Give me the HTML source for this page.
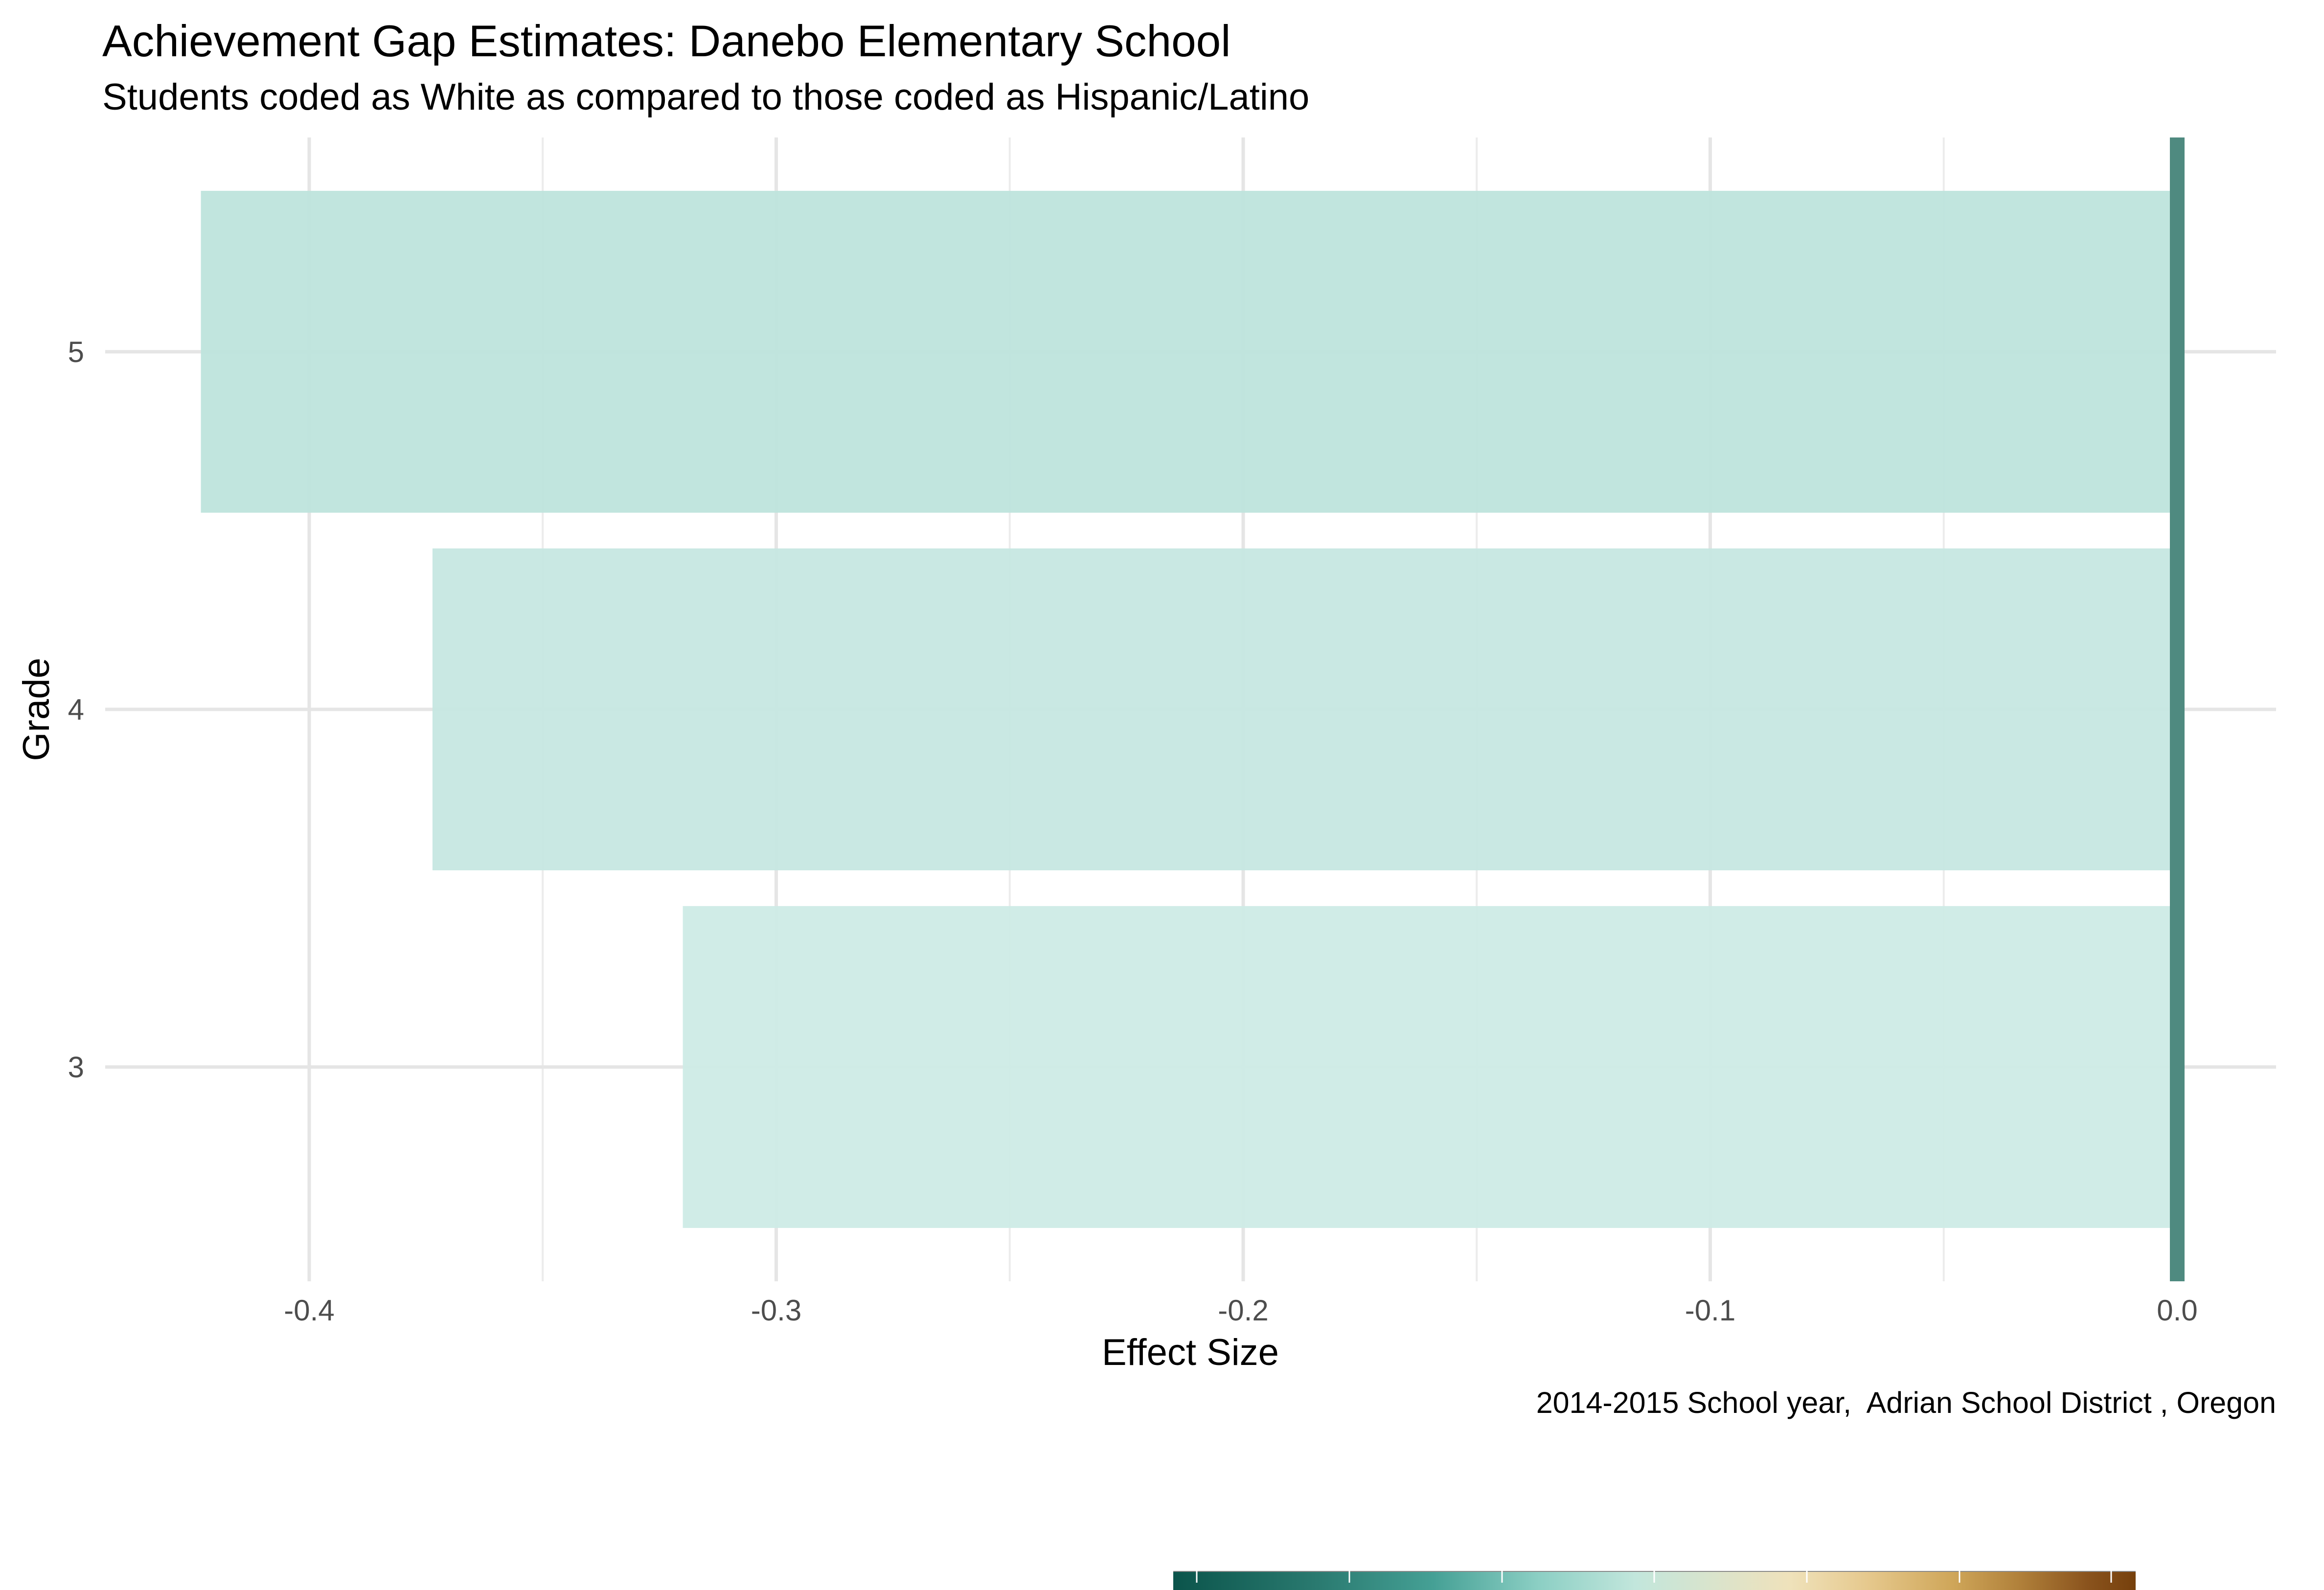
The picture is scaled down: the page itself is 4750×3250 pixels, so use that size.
<!DOCTYPE html>
<html><head><meta charset="utf-8">
<style>
html,body{margin:0;padding:0;background:#fff;}
svg{display:block;font-family:"Liberation Sans",Arial,sans-serif;}
</style></head>
<body>
<svg id="chart" width="4750" height="3250" viewBox="0 0 4750 3250" xmlns="http://www.w3.org/2000/svg">
<defs>
<linearGradient id="brbg" x1="0" x2="1" y1="0" y2="0">
<stop offset="0" stop-color="#0b544b"/>
<stop offset="0.15" stop-color="#2a7a70"/>
<stop offset="0.27" stop-color="#45a095"/>
<stop offset="0.38" stop-color="#8ccfc4"/>
<stop offset="0.48" stop-color="#c2e6dc"/>
<stop offset="0.58" stop-color="#dfe3c8"/>
<stop offset="0.64" stop-color="#efe2bb"/>
<stop offset="0.72" stop-color="#e6c98e"/>
<stop offset="0.81" stop-color="#cfa659"/>
<stop offset="0.88" stop-color="#b0803a"/>
<stop offset="0.95" stop-color="#8a531d"/>
<stop offset="1" stop-color="#76400c"/>
</linearGradient>
</defs>
<text x="209" y="115" font-size="91" fill="#000">Achievement Gap Estimates: Danebo Elementary School</text>
<text x="209" y="224" font-size="76" fill="#000">Students coded as White as compared to those coded as Hispanic/Latino</text>
<g id="grid"></g>
<g id="bars"></g>
<g id="xlabels"></g>
<g id="ylabels"></g>
<text x="2433" y="2790" font-size="76" text-anchor="middle" fill="#000">Effect Size</text>
<text x="0" y="0" font-size="76" text-anchor="middle" fill="#000" transform="translate(100,1450) rotate(-90)">Grade</text>
<text x="4652" y="2888" font-size="61" text-anchor="end" fill="#000">2014-2015 School year,&#160; Adrian School District , Oregon</text>
<g>
<rect x="2398" y="3211" width="1967" height="39" fill="url(#brbg)"/>
<g id="legticks"></g>
</g>
</svg>
<script>
const grades = ["3","4","5"];
const effects = [-0.320, -0.3736, -0.4232];
const barColors = ["#cdebe6","#c6e7e1","#bee4dc"];
const xTicks = [-0.4,-0.3,-0.2,-0.1,0.0];
const xTickLabels = ["-0.4","-0.3","-0.2","-0.1","0.0"];
const xMinor = [-0.35,-0.25,-0.15,-0.05];
const yTicks = [3,4,5];

const NS="http://www.w3.org/2000/svg";
const plotL=215, plotR=4652, plotT=281, plotB=2619;
function xs(v){return 4450 + v*9545;}
function ys(v){return 719 + (5 - v)*731;}
function mk(tag, attrs, parent){const e=document.createElementNS(NS,tag);for(const k in attrs)e.setAttribute(k,attrs[k]);parent.appendChild(e);return e;}

const grid=document.getElementById('grid');
xMinor.forEach(v=>{
  const l=mk('line',{x1:xs(v),x2:xs(v),y1:plotT,y2:plotB,stroke:'#ececec','stroke-width':4},grid);
  
  
});
xTicks.forEach(v=>{
  const l=mk('line',{x1:xs(v),x2:xs(v),y1:plotT,y2:plotB,stroke:'#e5e5e5','stroke-width':7},grid);
  
  
});
yTicks.forEach(v=>{
  const l=mk('line',{x1:plotL,x2:plotR,y1:ys(v),y2:ys(v),stroke:'#e5e5e5','stroke-width':7},grid);
  
  
});

const bars=document.getElementById('bars');
grades.forEach((g,i)=>{
  const v=+g, x0=xs(effects[i]), x1=xs(0);
  const r=mk('rect',{x:x0,y:ys(v+0.45),width:x1-x0,height:ys(v-0.45)-ys(v+0.45),fill:barColors[i],'fill-opacity':0.95},bars);
  
  
});
const zl=mk('rect',{x:xs(0)-15,y:plotT,width:30,height:plotB-plotT,fill:'#4f8a80'},bars);



const xl=document.getElementById('xlabels');
xTicks.forEach((v,i)=>{
  const t=mk('text',{x:xs(v),y:2699,'font-size':60,'text-anchor':'middle',fill:'#4d4d4d'},xl);
  t.textContent=xTickLabels[i];
  
  
});
const yl=document.getElementById('ylabels');
yTicks.forEach(v=>{
  const t=mk('text',{x:172,y:ys(v)+21,'font-size':60,'text-anchor':'end',fill:'#4d4d4d'},yl);
  t.textContent=String(v);
  
  
});

const lt=document.getElementById('legticks');
mk('line',{x1:2398,x2:4365,y1:3212,y2:3212,stroke:'#8a8a8a','stroke-width':2},lt);
[2446,2758,3070,3381,3693,4005,4315].forEach(x=>{
  const l=mk('line',{x1:x,x2:x,y1:3211,y2:3235,stroke:'#ffffff','stroke-width':3},lt);
  
  
});
</script>
</body></html>
